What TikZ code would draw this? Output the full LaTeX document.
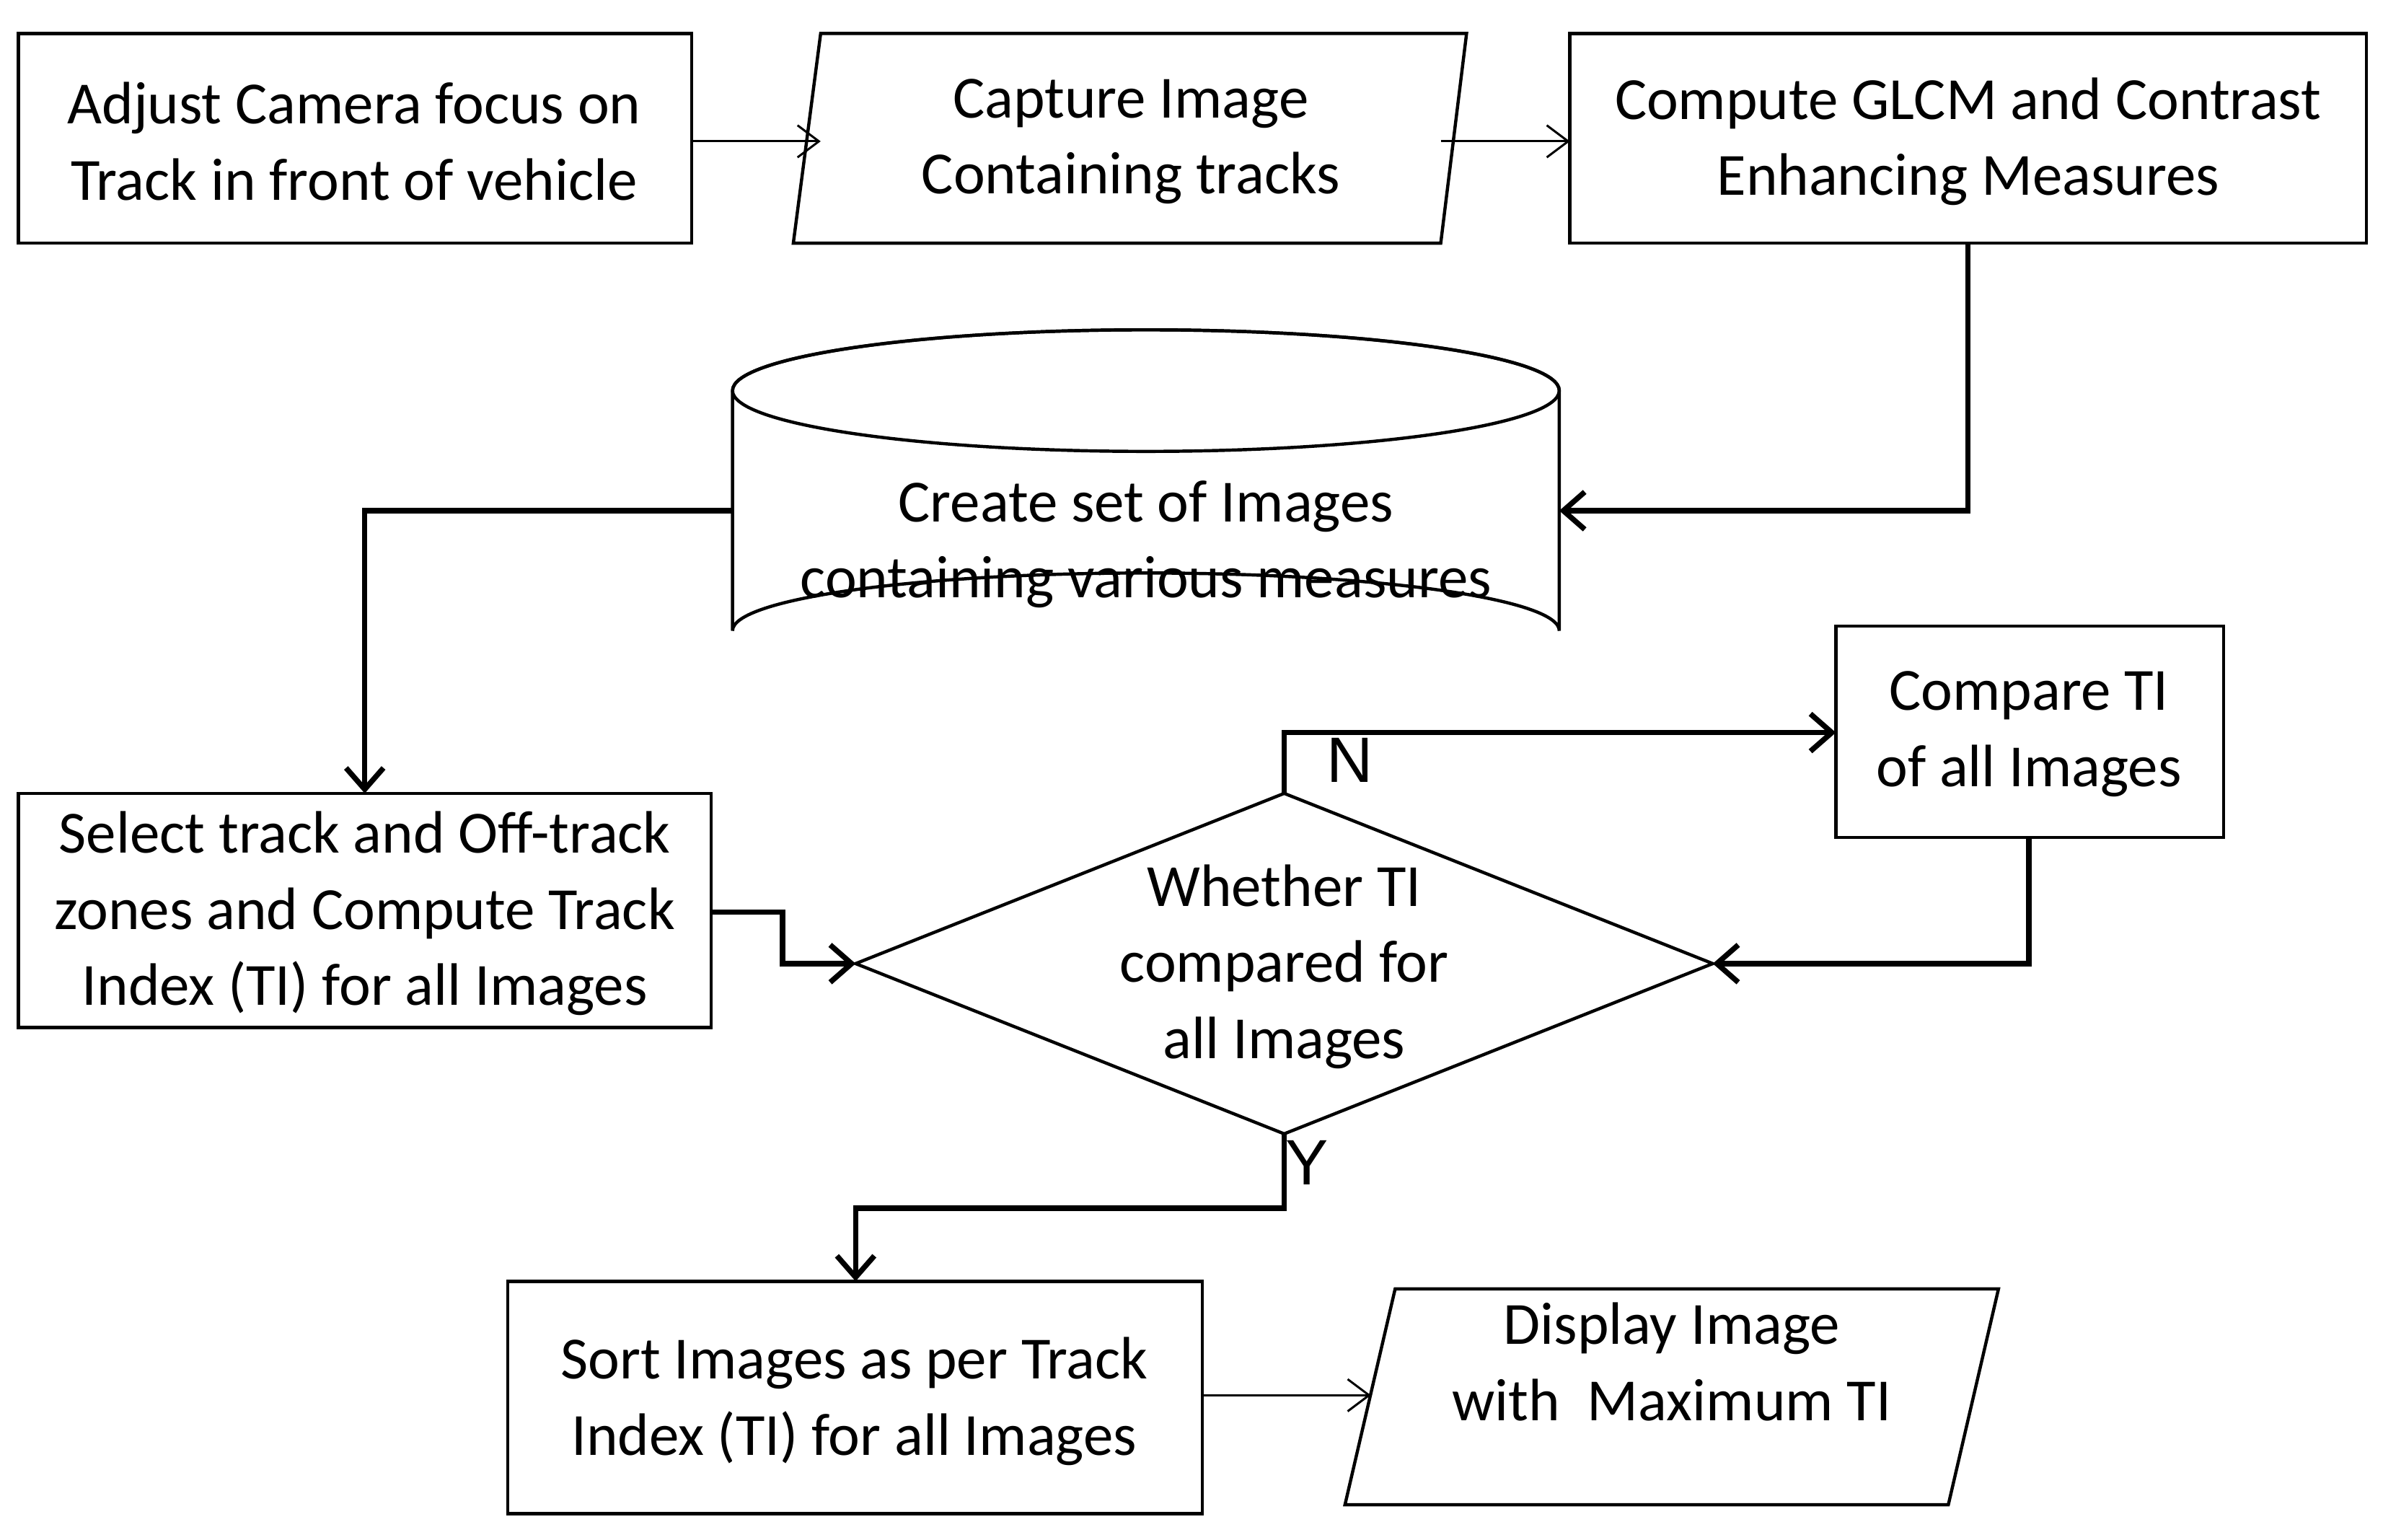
\documentclass[tikz,border=0pt]{standalone}
\usepackage{fontspec}
\setmainfont{Carlito}
\newfontfamily\arialf{Liberation Sans}
\usetikzlibrary{arrows.meta}
\begin{document}
\begin{tikzpicture}[x=0.01cm,y=-0.01cm,
  txt/.style={font=\fontsize{11.2}{14.2}\selectfont,align=center,inner sep=0pt},
  box/.style={draw,line width=0.6pt},
  thin/.style={line width=0.4pt,-{Straight Barb[length=4pt,width=6pt]}},
  thick/.style={line width=1pt,-{Straight Barb[length=4pt,width=7pt]}}]
\useasboundingbox (0,0) rectangle (1568,1013);
% boxes
\draw[box] (12,22) rectangle (455,160);
\node[txt] (a) at (233,93) {Adjust Camera focus on\\Track in front of vehicle};
\coordinate (aR) at (455,93);
\draw[box] (540,22) -- (965,22) -- (948,160) -- (522,160) -- cycle;
\node[txt] (b) at (744,93) {Capture Image\\Containing tracks};
\coordinate (bL) at (540,93); \coordinate (bR) at (948,93);
\draw[box] (1033,22) rectangle (1557,160);
\node[txt] (c) at (1295,93) {Compute GLCM and Contrast\\Enhancing Measures};
\coordinate (cL) at (1033,93); \coordinate (cB) at (1295,160);
% cylinder
\draw[box] (482,257) arc[start angle=180,end angle=360,x radius=272,y radius=40] ;
\draw[box] (754,257) ellipse[x radius=272,y radius=40];
\draw[box] (482,257) -- (482,415) arc[start angle=180,end angle=360,x radius=272,y radius=38] -- (1026,257);
\node[txt] (d) at (754,358) {Create set of Images\\containing various measures};
\coordinate (dR) at (1026,336); \coordinate (dL) at (482,336);
% box4
\draw[box] (12,522) rectangle (468,676);
\node[txt] (e) at (240,601) {Select track and Off-track\\zones and Compute Track\\Index (TI) for all Images};
\coordinate (eT) at (240,522); \coordinate (eR) at (468,600);
% diamond
\draw[box] (563,634) -- (845,522) -- (1127,634) -- (845,746) -- cycle;
\node[txt] (f) at (845,636) {Whether TI\\compared for\\all Images};
\coordinate (fL) at (563,634); \coordinate (fT) at (845,522);
\coordinate (fR) at (1127,634); \coordinate (fB) at (845,746);
% box5
\draw[box] (1208,412) rectangle (1463,551);
\node[txt] (g) at (1335,483) {Compare TI\\of all Images};
\coordinate (gL) at (1208,482); \coordinate (gB) at (1335,551);
% box6
\draw[box] (334,843) rectangle (791,996);
\node[txt] (h) at (562,922) {Sort Images as per Track\\Index (TI) for all Images};
\coordinate (hT) at (563,843); \coordinate (hR) at (791,918);
% parallelogram 2
\draw[box] (918,848) -- (1315,848) -- (1282,990) -- (885,990) -- cycle;
\node[txt] (k) at (1100,896) {Display Image\\with\ \ Maximum TI};
\coordinate (kL) at (902,918);
% connectors
\draw[thin] (aR) -- (bL);
\draw[thin] (bR) -- (cL);
\draw[thick] (cB) |- (dR);
\draw[thick] (dL) -| (eT);
\draw[thick] (eR) -- (515,600) |- (fL);
\draw[thick] (fT) |- (gL);
\draw[thick] (gB) |- (fR);
\draw[thick] (fB) -- (845,795) -| (hT);
\draw[thin] (hR) -- (kL);
\node[font=\arialf\fontsize{12}{14}\selectfont,inner sep=0pt] (n) at (888,500) {N};
\node[font=\arialf\fontsize{12}{14}\selectfont,inner sep=0pt] (y) at (860,765) {Y};
\end{tikzpicture}
\end{document}
